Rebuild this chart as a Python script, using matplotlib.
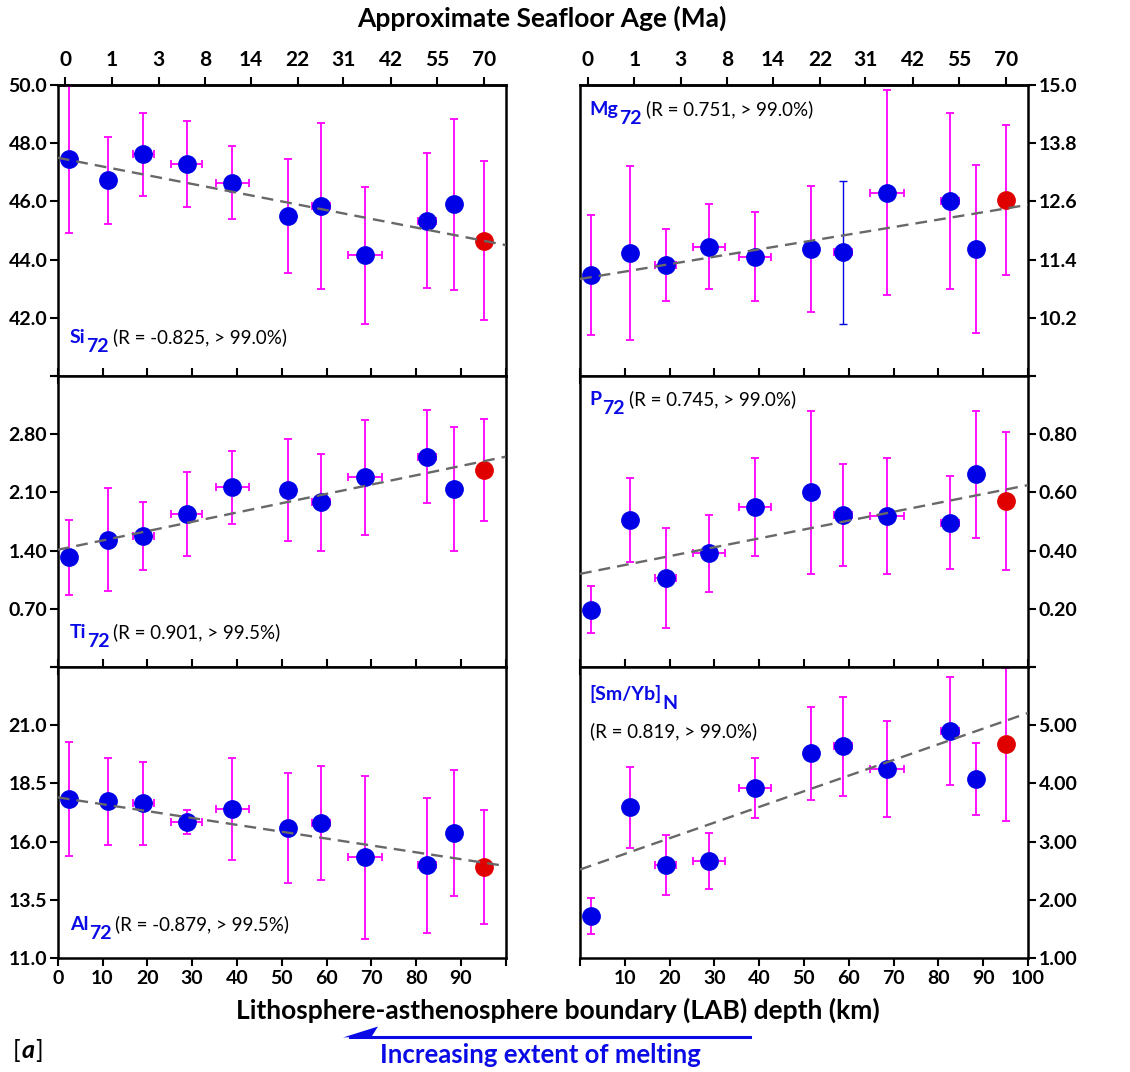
import numpy as np
import matplotlib.pyplot as plt
from matplotlib.lines import Line2D
from matplotlib.patches import Polygon

plt.rcParams['font.family'] = ['Lato', 'DejaVu Sans']

# LAB depth (km) of the 11 sample groups and their horizontal errors
lab_depth = [2.5, 11.2, 19.1, 28.8, 39.0, 51.5, 58.8, 68.5, 82.5, 88.4, 95.2]
lab_err = [0, 0, 2.3, 3.5, 3.6, 0, 2.0, 3.8, 2.0, 0, 0]

# seafloor age labels (top axis) and their LAB-depth positions
age_labels = ['0', '1', '3', '8', '14', '22', '31', '42', '55', '70']
age_pos = [1.7, 12.1, 22.5, 32.9, 43.1, 53.6, 63.7, 74.4, 84.7, 95.1]

si72 = [47.44, 46.73, 47.62, 47.28, 46.64, 45.50, 45.85, 44.15, 45.34, 45.90, 44.65]
si72_err = [2.51, 1.50, 1.42, 1.47, 1.26, 1.96, 2.85, 2.36, 2.32, 2.94, 2.73]
si72_trend = [47.5, 44.5]

ti72 = [1.32, 1.53, 1.58, 1.84, 2.16, 2.13, 1.98, 2.28, 2.53, 2.14, 2.37]
ti72_err = [0.45, 0.62, 0.41, 0.50, 0.44, 0.61, 0.58, 0.69, 0.56, 0.75, 0.61]
ti72_trend = [1.41, 2.53]

al72 = [17.84, 17.73, 17.64, 16.85, 17.40, 16.60, 16.81, 15.33, 14.98, 16.37, 14.90]
al72_err = [2.45, 1.88, 1.77, 0.52, 2.19, 2.36, 2.44, 3.50, 2.91, 2.69, 2.44]
al72_trend = [17.9, 14.95]

mg72 = [11.08, 11.54, 11.29, 11.67, 11.46, 11.62, 11.55, 12.78, 12.61, 11.62, 12.63]
mg72_err = [1.23, 1.80, 0.75, 0.88, 0.92, 1.30, 1.48, 2.12, 1.82, 1.74, 1.55]
mg72_trend = [11.0, 12.53]

p72 = [0.197, 0.504, 0.306, 0.391, 0.550, 0.601, 0.522, 0.519, 0.496, 0.662, 0.570]
p72_err = [0.081, 0.144, 0.173, 0.132, 0.168, 0.280, 0.175, 0.200, 0.160, 0.217, 0.238]
p72_trend = [0.32, 0.625]

smyb = [1.72, 3.59, 2.60, 2.67, 3.92, 4.52, 4.64, 4.25, 4.90, 4.08, 4.67]
smyb_err = [0.31, 0.70, 0.52, 0.48, 0.52, 0.80, 0.85, 0.83, 0.92, 0.62, 1.31]
smyb_trend = [2.52, 5.21]

BLUE = '#0000e6'
RED = '#e00000'
MAG = '#ff00ff'
TXT_BLUE = '#0a0ae6'

W, H = 1130, 1072
fig = plt.figure(figsize=(W / 100, H / 100), dpi=100)


def box(x0, ytop, w=448, h=291):
    return [x0 / W, 1 - (ytop + h) / H, w / W, h / H]


panels = [
    dict(pos=(57.7, 85), y=si72, e=si72_err, ticks=np.linspace(40, 50, 6), fmt='{:.1f}', hide=[0],
         side='left', row=0, trend=si72_trend, name='Si', sub='72', r='(R = -0.825, > 99.0%)', lxy=(0.027, 0.112)),
    dict(pos=(57.7, 376), y=ti72, e=ti72_err, ticks=np.linspace(0, 3.5, 6), fmt='{:.2f}', hide=[0, 5],
         side='left', row=1, trend=ti72_trend, name='Ti', sub='72', r='(R = 0.901, > 99.5%)', lxy=(0.027, 0.099)),
    dict(pos=(57.7, 667), y=al72, e=al72_err, ticks=np.linspace(11, 23.5, 6), fmt='{:.1f}', hide=[5],
         side='left', row=2, trend=al72_trend, name='Al', sub='72', r='(R = -0.879, > 99.5%)', lxy=(0.027, 0.096)),
    dict(pos=(580, 85), y=mg72, e=mg72_err, ticks=np.linspace(9, 15, 6), fmt='{:.1f}', hide=[0],
         side='right', row=0, trend=mg72_trend, name='Mg', sub='72', r='(R = 0.751, > 99.0%)', lxy=(0.022, 0.897),
         blue_err=[6]),
    dict(pos=(580, 376), y=p72, e=p72_err, ticks=np.linspace(0, 1.0, 6), fmt='{:.2f}', hide=[0, 5],
         side='right', row=1, trend=p72_trend, name='P', sub='72', r='(R = 0.745, > 99.0%)', lxy=(0.022, 0.900)),
    dict(pos=(580, 667), y=smyb, e=smyb_err, ticks=np.linspace(1, 6, 6), fmt='{:.2f}', hide=[5],
         side='right', row=2, trend=smyb_trend, name='[Sm/Yb]', sub='N', r=None, lxy=(0.022, 0.887)),
]

for p in panels:
    ax = fig.add_axes(box(*p['pos']))
    x = np.array(lab_depth)
    y = np.array(p['y'])
    e = np.array(p['e'])
    xe = np.array(lab_err)
    blue_err = p.get('blue_err', [])
    for i in range(len(x)):
        ecol = BLUE if i in blue_err else MAG
        elw = 1.0 if i in blue_err else 1.3
        ax.errorbar(x[i], y[i], yerr=e[i], fmt='none', ecolor=ecol, elinewidth=elw,
                    capsize=2.6, capthick=elw, zorder=2)
        if xe[i] > 0:
            ax.errorbar(x[i], y[i], xerr=xe[i], fmt='none', ecolor=MAG, elinewidth=1.3,
                        capsize=2.6, capthick=1.3, zorder=2)
    ax.plot(x[:-1], y[:-1], 'o', color=BLUE, ms=12.5, mec=BLUE, zorder=3)
    ax.plot(x[-1:], y[-1:], 'o', color=RED, ms=12.5, mec=RED, zorder=3)
    ax.plot([0, 100], p['trend'], color='#686868', lw=1.7, dashes=(5, 3), zorder=4)

    ax.set_xlim(0, 100)
    ax.set_ylim(p['ticks'][0], p['ticks'][-1])
    for s in ax.spines.values():
        s.set_linewidth(1.8)

    labels = ['' if i in p['hide'] else p['fmt'].format(t) for i, t in enumerate(p['ticks'])]
    ax.set_yticks(p['ticks'], labels=labels, fontweight='bold', fontsize=14)
    if p['side'] == 'right':
        ax.tick_params(axis='y', left=False, right=True, labelleft=False, labelright=True,
                       direction='out', length=5.5, width=1.5, pad=2)
    else:
        ax.tick_params(axis='y', direction='out', length=5.5, width=1.5, pad=2)

    xt = list(range(0, 101, 10))
    if p['row'] < 2:
        ax.set_xticks(xt)
        ax.tick_params(axis='x', direction='inout', length=12, width=1.5, labelbottom=False)
    else:
        if p['side'] == 'left':
            xl = [str(t) if t < 100 else '' for t in xt]
        else:
            xl = [str(t) if t > 0 else '' for t in xt]
        ax.set_xticks(xt, labels=xl, fontweight='bold', fontsize=14)
        ax.tick_params(axis='x', direction='out', length=6, width=1.5, pad=3)

    if p['row'] == 0:
        sec = ax.secondary_xaxis('top')
        sec.set_xticks(age_pos, labels=age_labels, fontweight='bold', fontsize=15)
        sec.tick_params(direction='out', length=6, width=1.5, pad=5)
        sec.spines['top'].set_linewidth(1.8)

    # panel label: blue element name with subscript, then R text
    lx, ly = p['lxy']
    t1 = ax.text(lx, ly, p['name'], transform=ax.transAxes, color=TXT_BLUE,
                 fontweight='bold', fontsize=14, va='baseline', zorder=5)
    t2 = ax.annotate(p['sub'], xy=(1, 0), xycoords=t1, xytext=(0.3, -6.5), textcoords='offset points',
                     color=TXT_BLUE, fontweight='bold', fontsize=14, va='bottom', zorder=5)
    if p['r'] is not None:
        ax.annotate(p['r'], xy=(1, 0), xycoords=(t2, t1), xytext=(3, 0), textcoords='offset points',
                    color='black', fontsize=13.5, va='bottom', zorder=5)
    else:
        ax.text(lx, 0.758, '(R = 0.819, > 99.0%)', transform=ax.transAxes, color='black',
                fontsize=13.5, va='baseline', zorder=5)

fig.text(542 / W, 1 - 18 / H, 'Approximate Seafloor Age (Ma)', ha='center', va='center',
         fontweight='bold', fontsize=19)
fig.text(558 / W, 1 - 1010 / H, 'Lithosphere-asthenosphere boundary (LAB) depth (km)',
         ha='center', va='center', fontweight='bold', fontsize=19)
fig.text(540 / W, 1 - 1055 / H, 'Increasing extent of melting', ha='center', va='center',
         fontweight='bold', fontsize=18.5, color=TXT_BLUE)

# half-headed arrow pointing left
ya = 1 - 1036.7 / H
fig.add_artist(Line2D([350 / W, 750 / W], [ya, ya], color=TXT_BLUE, lw=2.2))
fig.add_artist(Polygon([(343 / W, 1 - 1037.5 / H), (378 / W, 1 - 1026.5 / H), (372 / W, 1 - 1036 / H)],
                       closed=True, color=TXT_BLUE, lw=0))

# [a] panel tag
ta = fig.text(13 / W, 1 - 1058 / H, '[', fontsize=18, va='baseline')
tb = plt.annotate('a', xy=(1, 0), xycoords=ta, xytext=(0.5, 0), textcoords='offset points',
                  fontsize=18, fontweight='bold', fontstyle='italic', va='bottom')
plt.annotate(']', xy=(1, 0), xycoords=(tb, ta), xytext=(0.5, 0), textcoords='offset points',
             fontsize=18, va='bottom')

fig.savefig('out.png', dpi=100)
